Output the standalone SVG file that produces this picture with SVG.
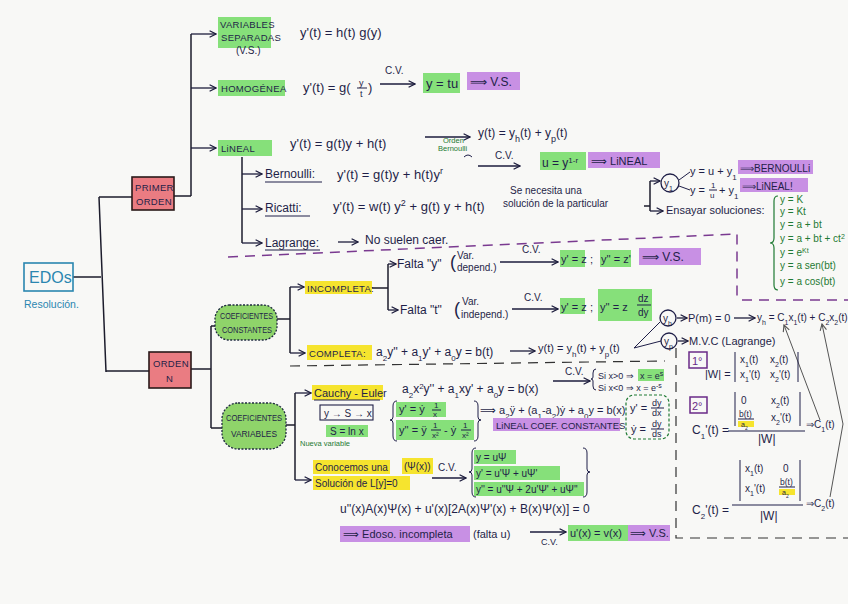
<svg xmlns="http://www.w3.org/2000/svg" width="848" height="604" viewBox="0 0 848 604">
<defs>
<marker id="ah" viewBox="0 0 10 10" refX="9" refY="5" markerWidth="8" markerHeight="8" orient="auto" markerUnits="userSpaceOnUse">
<path d="M1,1 L9,5 L1,9" fill="none" stroke="#1c1c3c" stroke-width="1.6"/>
</marker>
<marker id="ahg" viewBox="0 0 10 10" refX="9" refY="5" markerWidth="8" markerHeight="8" orient="auto" markerUnits="userSpaceOnUse">
<path d="M1,1 L9,5 L1,9" fill="none" stroke="#555" stroke-width="1.4"/>
</marker>
</defs>
<style>
svg{font-size:12px}
text{font-family:"Liberation Sans",Arial,sans-serif;fill:#1f1f48}
.cap{font-size:9.5px;letter-spacing:0.3px}
.sm{font-size:10px}
.xs{font-size:7.5px}
.g{fill:#1f7a33}
.b{fill:#2a86b0}
.pu{fill:#6a2a88}
.ln{stroke:#1c1c2c;stroke-width:1.5;fill:none}
.la{stroke:#1c1c3c;stroke-width:1.3;fill:none;marker-end:url(#ah)}
.thin{stroke:#1f1f48;stroke-width:1;fill:none}
.hg{fill:#86e07a}
.hp{fill:#c890e4}
.hy{fill:#f6e42e}
.pk{fill:#ea7c82;stroke:#2a1a1a;stroke-width:1.6}
.cl{fill:#8fd46a;stroke:#1f2a40;stroke-width:1.3;stroke-dasharray:2 1.5}
.gb{stroke:#1f7a33;stroke-width:1.2;fill:none}
</style>
<rect x="0" y="0" width="848" height="604" fill="#f8f8f6"/>

<g id="connectors">
<path class="ln" d="M73,277 H101 M99,197 L106,372 M99,197 H132 M106,371 H149"/>
<path class="ln" d="M174,196 H191 M191,196 V34"/>
<path class="la" d="M191,34 H216"/>
<path class="la" d="M191,88 H216"/>
<path class="la" d="M191,148 H216"/>
<path class="ln" d="M242,157 V243"/>
<path class="la" d="M242,174 H262"/>
<path class="la" d="M242,209 H262"/>
<path class="la" d="M242,243 H262"/>
<path class="ln" d="M191,369 H211 M211,326 V428 M211,326 H216 M211,428 H222"/>
<path class="ln" d="M277,319 H290 M290,287 V353"/>
<path class="la" d="M290,287 H304"/>
<path class="la" d="M290,353 H305"/>
<path class="ln" d="M372,288 H388 M388,264 V310"/>
<path class="la" d="M388,264 H396"/>
<path class="la" d="M388,310 H398"/>
<path class="ln" d="M286,425 H295 M295,393 V480"/>
<path class="la" d="M295,393 H311"/>
<path class="la" d="M295,480 H311"/>
<path class="la" d="M380,84 H415"/>
<path class="la" d="M425,137 H470"/>
<path class="la" d="M478,166 H520"/>
<path class="ln" d="M644,206 H650 M650,181 V211"/>
<path class="la" d="M650,181 H660"/>
<path class="la" d="M650,211 H663"/>
<path class="thin" d="M679,180 L690,172 M679,186 L690,190"/>
<path class="la" d="M338,242 H358"/>
<path class="la" d="M500,262 H558"/>
<path class="la" d="M512,309 H558"/>
<path class="la" d="M510,351 H535"/>
<path class="thin" d="M660,322 L634,348 L661,341"/>
<path class="la" d="M677,318 H687"/>
<path class="la" d="M734,318 H755"/>
<path class="la" d="M678,341 H688"/>
<path class="la" d="M553,381 H590"/>
<path class="la" d="M432,478 H466"/>
<path class="la" d="M530,532 H566"/>
<path d="M820,420 L784,325" stroke="#555" stroke-width="1" fill="none" marker-end="url(#ahg)"/>
<path d="M830,497 L843,424 L822,324" stroke="#555" stroke-width="1" fill="none" marker-end="url(#ahg)"/>
<path d="M228,257 L737,234 V300 M742,300 H848" stroke="#7a3a90" stroke-width="1.5" fill="none" stroke-dasharray="10 7"/>
<path d="M290,366 L665,361" stroke="#333" stroke-width="1.2" fill="none" stroke-dasharray="10 7"/>
<path d="M676,348 V538 H848" stroke="#333" stroke-width="1.2" fill="none" stroke-dasharray="10 7"/>
</g>

<g id="edos">
<rect x="24" y="263" width="49" height="28" fill="none" stroke="#2a86b0" stroke-width="1.6"/>
<text x="29" y="283" class="b" font-size="16">EDOs</text>
<text x="24" y="308" class="b" font-size="10.5">Resolución.</text>
</g>

<g id="primer-orden">
<rect class="pk" x="132" y="177" width="42" height="33"/>
<text x="135" y="191" class="cap">PRIMER</text>
<text x="136" y="205" class="cap">ORDEN</text>
</g>

<g id="orden-n">
<rect class="pk" x="149" y="352" width="42" height="36"/>
<text x="153" y="367" class="cap">ORDEN</text>
<text x="166" y="382" class="cap">N</text>
</g>

<g id="variables-separadas">
<rect class="hg" x="218" y="17" width="53" height="31"/>
<text x="220" y="28" class="cap">VARIABLES</text>
<text x="221" y="41" class="cap">SEPARADAS</text>
<text x="236" y="54" class="sm">(V.S.)</text>
<text x="300" y="37" font-size="13">y'(t) = h(t) g(y)</text>
</g>

<g id="homogenea">
<rect class="hg" x="218" y="80" width="67" height="16"/>
<text x="221" y="92" class="cap">HOMOGÉNEA</text>
<text x="303" y="92" font-size="13">y'(t) = g(</text>
<text x="359" y="86" font-size="9">y</text>
<path class="thin" d="M357,88 H367"/>
<text x="360" y="97" font-size="9">t</text>
<text x="368" y="92" font-size="13">)</text>
<text x="385" y="74" class="sm">C.V.</text>
<rect class="hg" x="423" y="73" width="37" height="20"/>
<text x="426" y="88" font-size="13">y = tu</text>
<rect class="hp" x="467" y="72" width="53" height="18"/>
<text x="470" y="86" font-size="12">⟹ V.S.</text>
</g>

<g id="lineal">
<rect class="hg" x="218" y="140" width="54" height="16"/>
<text x="221" y="152" class="cap">LiNEAL</text>
<text x="290" y="148" font-size="13">y'(t) = g(t)y + h(t)</text>
<text x="478" y="137" font-size="12">y(t) = y<tspan font-size="9" baseline-shift="sub">h</tspan>(t) + y<tspan font-size="9" baseline-shift="sub">p</tspan>(t)</text>
</g>

<g id="bernoulli">
<text x="265" y="178" font-size="12">Bernoulli:</text>
<path class="thin" d="M265,182 H322"/>
<text x="337" y="179" font-size="13">y'(t) = g(t)y + h(t)y<tspan font-size="9" baseline-shift="super">r</tspan></text>
<text x="443" y="143" class="xs g">Orden</text>
<text x="438" y="151" class="xs g">Bernoulli</text>
<path class="thin" d="M464,157 q4,-4 8,0"/>
<text x="495" y="159" class="sm">C.V.</text>
<rect class="hg" x="540" y="152" width="46" height="18"/>
<text x="542" y="167" font-size="12">u = y<tspan font-size="8" baseline-shift="super">1-r</tspan></text>
<rect class="hp" x="588" y="152" width="72" height="16"/>
<text x="591" y="165" font-size="11">⟹ LiNEAL</text>
</g>

<g id="ricatti">
<text x="265" y="212" font-size="12">Ricatti:</text>
<path class="thin" d="M265,216 H310"/>
<text x="333" y="211" font-size="13">y'(t) = w(t) y<tspan font-size="9" baseline-shift="super">2</tspan> + g(t) y + h(t)</text>
<text x="510" y="194" class="sm">Se necesita una</text>
<text x="503" y="207" class="sm">solución de la particular</text>
<circle cx="670" cy="183" r="9" fill="none" stroke="#1f1f48" stroke-width="1.3"/>
<text x="664" y="187" class="sm">y<tspan font-size="7" baseline-shift="sub">1</tspan></text>
<text x="690" y="175" font-size="11">y = u + y<tspan font-size="8" baseline-shift="sub">1</tspan></text>
<text x="690" y="194" font-size="11">y =</text>
<text x="711" y="188" font-size="8">1</text>
<path class="thin" d="M709,190 H717"/>
<text x="710" y="198" font-size="8">u</text>
<text x="719" y="194" font-size="11">+ y<tspan font-size="8" baseline-shift="sub">1</tspan></text>
<rect class="hp" x="738" y="160" width="75" height="14"/>
<text x="740" y="172" font-size="10">⟹BERNOULLi</text>
<rect class="hp" x="740" y="178" width="68" height="14"/>
<text x="742" y="190" font-size="10">⟹LiNEAL!</text>
<text x="666" y="214" font-size="11">Ensayar soluciones:</text>
<path class="gb" d="M778,196 q-4,0 -4,5 V238 q0,5 -4,5 q4,0 4,5 V285 q0,5 4,5"/>
<text x="780" y="203" class="sm g">y = K</text>
<text x="780" y="215" class="sm g">y = Kt</text>
<text x="780" y="228" class="sm g">y = a + bt</text>
<text x="780" y="242" class="sm g">y = a + bt + ct<tspan font-size="7" baseline-shift="super">2</tspan></text>
<text x="780" y="256" class="sm g">y = e<tspan font-size="7" baseline-shift="super">Kt</tspan></text>
<text x="780" y="269" class="sm g">y = a sen(bt)</text>
<text x="780" y="285" class="sm g">y = a cos(bt)</text>
</g>

<g id="lagrange">
<text x="265" y="247" font-size="12">Lagrange:</text>
<path class="thin" d="M265,250 H320"/>
<text x="365" y="244" font-size="12">No suelen caer.</text>
</g>

<g id="coef-constantes">
<rect class="cl" x="215" y="305" width="62" height="35" rx="14"/>
<text x="220" y="319" font-size="8.5" textLength="53" lengthAdjust="spacingAndGlyphs">COEFICIENTES</text>
<text x="222" y="333" font-size="8.5" textLength="50" lengthAdjust="spacingAndGlyphs">CONSTANTES</text>
</g>

<g id="incompleta">
<rect class="hy" x="305" y="281" width="67" height="13"/>
<text x="307" y="292" class="cap">INCOMPLETA:</text>
<text x="397" y="268" font-size="12">Falta "y"</text>
<text x="450" y="268" font-size="18">(</text>
<text x="457" y="259" class="sm">Var.</text>
<text x="457" y="271" class="sm">depend.)</text>
<text x="522" y="253" class="sm">C.V.</text>
<rect class="hg" x="560" y="250" width="25" height="17"/>
<text x="561" y="263" font-size="11">y' = z</text>
<text x="590" y="263" font-size="11">;</text>
<rect class="hg" x="600" y="250" width="31" height="17"/>
<text x="601" y="263" font-size="11">y'' = z'</text>
<rect class="hp" x="639" y="248" width="62" height="17"/>
<text x="642" y="261" font-size="12">⟹ V.S.</text>
<text x="400" y="314" font-size="12">Falta "t"</text>
<text x="454" y="315" font-size="18">(</text>
<text x="462" y="305" class="sm">Var.</text>
<text x="461" y="318" class="sm">independ.)</text>
<text x="524" y="301" class="sm">C.V.</text>
<rect class="hg" x="560" y="298" width="25" height="16"/>
<text x="561" y="311" font-size="11">y' = z</text>
<text x="590" y="311" font-size="11">;</text>
<rect class="hg" x="598" y="289" width="54" height="32"/>
<text x="600" y="311" font-size="11">y'' = z</text>
<text x="638" y="302" font-size="10">dz</text>
<path class="thin" d="M637,305 H651"/>
<text x="638" y="316" font-size="10">dy</text>
</g>

<g id="completa">
<rect class="hy" x="307" y="345" width="65" height="15"/>
<text x="309" y="357" class="cap">COMPLETA:</text>
<text x="376" y="356" font-size="12">a<tspan font-size="8" baseline-shift="sub">2</tspan>y'' + a<tspan font-size="8" baseline-shift="sub">1</tspan>y' + a<tspan font-size="8" baseline-shift="sub">0</tspan>y = b(t)</text>
<text x="538" y="352" font-size="11">y(t) = y<tspan font-size="8" baseline-shift="sub">h</tspan>(t) + y<tspan font-size="8" baseline-shift="sub">p</tspan>(t)</text>
<circle cx="668" cy="318" r="8" fill="none" stroke="#1f1f48" stroke-width="1.3"/>
<text x="663" y="322" class="sm">y<tspan font-size="7" baseline-shift="sub">h</tspan></text>
<circle cx="669" cy="341" r="8" fill="none" stroke="#1f1f48" stroke-width="1.3"/>
<text x="664" y="345" class="sm">y<tspan font-size="7" baseline-shift="sub">p</tspan></text>
<text x="688" y="322" font-size="11">P(m) = 0</text>
<text x="757" y="321" font-size="10">y<tspan font-size="7" baseline-shift="sub">h</tspan> = C<tspan font-size="7" baseline-shift="sub">1</tspan>x<tspan font-size="7" baseline-shift="sub">1</tspan>(t) + C<tspan font-size="7" baseline-shift="sub">2</tspan>x<tspan font-size="7" baseline-shift="sub">2</tspan>(t)</text>
<text x="689" y="345" font-size="11">M.V.C (Lagrange)</text>
</g>

<g id="coef-variables">
<rect class="cl" x="222" y="403" width="64" height="46" rx="16"/>
<text x="226" y="421" font-size="8.5" textLength="56" lengthAdjust="spacingAndGlyphs">COEFICIENTES</text>
<text x="231" y="437" font-size="8.5" textLength="46" lengthAdjust="spacingAndGlyphs">VARIABLES</text>
</g>

<g id="cauchy-euler">
<rect class="hy" x="312" y="385" width="71" height="15"/>
<text x="314" y="397" font-size="11">Cauchy - Euler</text>
<path class="thin" d="M314,400 H380"/>
<rect x="320" y="405" width="53" height="15" fill="none" stroke="#1f1f48" stroke-width="1.1"/>
<text x="324" y="417" class="sm">y → S → x</text>
<rect class="hg" x="326" y="425" width="42" height="12"/>
<text x="330" y="435" class="sm">S = ln x</text>
<text x="300" y="446" class="xs g">Nueva variable</text>
<text x="402" y="393" font-size="12">a<tspan font-size="8" baseline-shift="sub">2</tspan>x<tspan font-size="8" baseline-shift="super">2</tspan>y'' + a<tspan font-size="8" baseline-shift="sub">1</tspan>xy' + a<tspan font-size="8" baseline-shift="sub">0</tspan>y = b(x)</text>
<text x="565" y="375" class="sm">C.V.</text>
<path class="thin" d="M596,369 q-3,0 -3,4 V377 q0,2 -2,2 q2,0 2,2 V386 q0,4 3,4"/>
<text x="598" y="379" font-size="9">Si x&gt;0 ⇒</text>
<rect class="hg" x="638" y="369" width="26" height="12"/>
<text x="640" y="379" font-size="9">x = e<tspan font-size="7" baseline-shift="super">s</tspan></text>
<text x="598" y="391" font-size="9">Si x&lt;0 ⇒ x = e<tspan font-size="7" baseline-shift="super">-s</tspan></text>
<rect class="hg" x="396" y="402" width="50" height="15"/>
<rect class="hg" x="396" y="420" width="78" height="20"/>
<path class="thin" d="M397,401 q-4,0 -4,5 V417 q0,3 -3,3 q3,0 3,3 V436 q0,5 4,5 M474,401 q4,0 4,5 V417 q0,3 3,3 q-3,0 -3,3 V436 q0,5 -4,5"/>
<text x="399" y="413" font-size="11">y' = ẏ</text>
<text x="434" y="408" font-size="8">1</text>
<path class="thin" d="M432,410 H441"/>
<text x="433" y="417" font-size="8">x</text>
<text x="399" y="434" font-size="11">y'' = ÿ</text>
<text x="433" y="428" font-size="8">1</text>
<path class="thin" d="M431,430 H441"/>
<text x="432" y="438" font-size="8">x²</text>
<text x="444" y="434" font-size="11">- ẏ</text>
<text x="463" y="428" font-size="8">1</text>
<path class="thin" d="M461,430 H471"/>
<text x="462" y="438" font-size="8">x²</text>
<text x="480" y="414" font-size="11">⟹ a<tspan font-size="8" baseline-shift="sub">2</tspan>ÿ + (a<tspan font-size="8" baseline-shift="sub">1</tspan>-a<tspan font-size="8" baseline-shift="sub">2</tspan>)ẏ + a<tspan font-size="8" baseline-shift="sub">0</tspan>y = b(x)</text>
<rect class="hp" x="493" y="418" width="127" height="13"/>
<text x="496" y="429" font-size="9.5">LiNEAL COEF. CONSTANTES</text>
<rect x="626" y="395" width="43" height="44" rx="8" fill="none" stroke="#1f7a33" stroke-width="1.2" stroke-dasharray="3 2"/>
<text x="630" y="412" font-size="11">y' =</text>
<text x="652" y="406" font-size="9">dy</text>
<path class="thin" d="M651,408 H664"/>
<text x="652" y="416" font-size="9">dx</text>
<text x="631" y="433" font-size="11">ẏ =</text>
<text x="652" y="427" font-size="9">dy</text>
<path class="thin" d="M651,429 H664"/>
<text x="652" y="437" font-size="9">ds</text>
</g>

<g id="conocemos">
<rect class="hy" x="313" y="460" width="77" height="14"/>
<text x="315" y="471" class="sm">Conocemos una</text>
<rect class="hy" x="402" y="458" width="31" height="16"/>
<text x="404" y="470" class="sm">(Ψ(x))</text>
<rect class="hy" x="313" y="476" width="97" height="14"/>
<text x="315" y="487" class="sm">Solución de L[y]=0</text>
<text x="438" y="471" class="sm">C.V.</text>
<rect class="hg" x="474" y="450" width="42" height="14"/>
<rect class="hg" x="474" y="466" width="86" height="14"/>
<rect class="hg" x="474" y="482" width="110" height="14"/>
<path class="thin" d="M476,448 q-4,0 -4,5 V469 q0,3 -3,3 q3,0 3,3 V492 q0,5 4,5 M583,448 q4,0 4,5 V469 q0,3 3,3 q-3,0 -3,3 V492 q0,5 -4,5"/>
<text x="476" y="461" class="sm">y = uΨ</text>
<text x="476" y="477" class="sm">y' = u'Ψ + uΨ'</text>
<text x="476" y="493" class="sm">y'' = u''Ψ + 2u'Ψ' + uΨ''</text>
<text x="340" y="513" font-size="12">u''(x)A(x)Ψ(x) + u'(x)[2A(x)Ψ'(x) + B(x)Ψ(x)] = 0</text>
<rect class="hp" x="340" y="526" width="130" height="16"/>
<text x="343" y="538" font-size="11">⟹ Edoso. incompleta</text>
<text x="473" y="538" font-size="11">(falta u)</text>
<text x="541" y="545" font-size="9">C.V.</text>
<rect class="hg" x="568" y="525" width="60" height="16"/>
<text x="570" y="537" font-size="11">u'(x) = v(x)</text>
<rect class="hp" x="628" y="525" width="42" height="16"/>
<text x="630" y="537" font-size="11">⟹ V.S.</text>
</g>

<g id="variacion-parametros">
<rect x="689" y="352" width="18" height="16" fill="none" stroke="#6a2a88" stroke-width="1.5"/>
<text x="692" y="365" font-size="11" class="pu">1°</text>
<text x="705" y="378" font-size="11">|W| =</text>
<path class="thin" d="M735,352 V382 M798,352 V382" stroke-width="1.4"/>
<text x="740" y="363" class="sm">x<tspan font-size="7" baseline-shift="sub">1</tspan>(t)</text>
<text x="770" y="363" class="sm">x<tspan font-size="7" baseline-shift="sub">2</tspan>(t)</text>
<text x="740" y="378" class="sm">x<tspan font-size="7" baseline-shift="sub">1</tspan>'(t)</text>
<text x="770" y="378" class="sm">x<tspan font-size="7" baseline-shift="sub">2</tspan>'(t)</text>
<rect x="690" y="397" width="17" height="16" fill="none" stroke="#6a2a88" stroke-width="1.5"/>
<text x="692" y="410" font-size="11" class="pu">2°</text>
<path class="thin" d="M735,392 V426 M800,392 V426" stroke-width="1.4"/>
<text x="741" y="404" class="sm">0</text>
<text x="771" y="404" class="sm">x<tspan font-size="7" baseline-shift="sub">2</tspan>(t)</text>
<text x="739" y="417" font-size="8.5">b(t)</text>
<path class="thin" d="M738,419 H754"/>
<rect class="hy" x="738" y="421" width="16" height="6"/>
<text x="741" y="427" font-size="7">a<tspan font-size="5" baseline-shift="sub">2</tspan></text>
<text x="771" y="421" class="sm">x<tspan font-size="7" baseline-shift="sub">2</tspan>'(t)</text>
<path class="thin" d="M728,431 H805" stroke-width="1.3"/>
<text x="758" y="443" font-size="12">|W|</text>
<text x="692" y="434" font-size="12">C<tspan font-size="8" baseline-shift="sub">1</tspan>'(t) =</text>
<text x="806" y="428" class="sm">⇒C<tspan font-size="7" baseline-shift="sub">1</tspan>(t)</text>
<path class="thin" d="M740,460 V501 M800,460 V501" stroke-width="1.4"/>
<text x="745" y="472" class="sm">x<tspan font-size="7" baseline-shift="sub">1</tspan>(t)</text>
<text x="783" y="472" class="sm">0</text>
<text x="745" y="492" class="sm">x<tspan font-size="7" baseline-shift="sub">1</tspan>'(t)</text>
<text x="780" y="485" font-size="8.5">b(t)</text>
<path class="thin" d="M779,487 H795"/>
<rect class="hy" x="779" y="489" width="16" height="6"/>
<text x="782" y="495" font-size="7">a<tspan font-size="5" baseline-shift="sub">2</tspan></text>
<path class="thin" d="M732,505 H803" stroke-width="1.3"/>
<text x="760" y="520" font-size="12">|W|</text>
<text x="692" y="514" font-size="12">C<tspan font-size="8" baseline-shift="sub">2</tspan>'(t) =</text>
<text x="806" y="507" class="sm">⇒C<tspan font-size="7" baseline-shift="sub">2</tspan>(t)</text>
</g>
</svg>
